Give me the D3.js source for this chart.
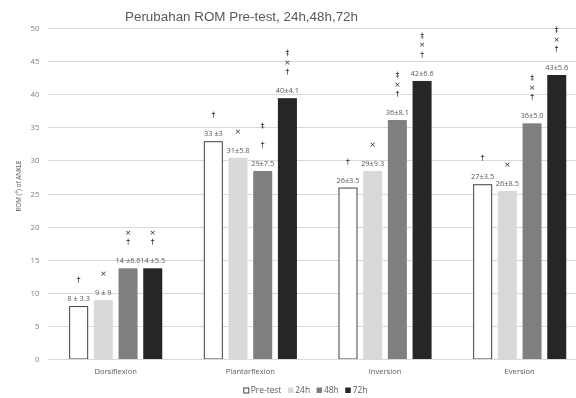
<!DOCTYPE html>
<html><head><meta charset="utf-8">
<script src="https://cdn.jsdelivr.net/npm/d3@7"></script>
<style>body{margin:0;background:#fff}svg{display:block;filter:grayscale(1)}</style>
</head><body><div id="chart"></div>
<script>
const categories = ["Dorsiflexion","Plantarflexion","Inversion","Eversion"];
const seriesNames = ["Pre-test","24h","48h","72h"];
const preTest = [8.0, 32.9, 25.9, 26.4];
const h24 = [8.9, 30.4, 28.4, 25.4];
const h48 = [13.7, 28.4, 36.1, 35.6];
const h72 = [13.7, 39.4, 42.0, 42.9];
const preTestLabels = ["8 ± 3.3","33 ±3","26±3.5","27±3.5"];
const h24Labels = ["9 ± 9","31±5.8","29±9.3","26±8.5"];
const h48Labels = ["14 ±6.6","29±7.5","36±8.1","36±5.0"];
const h72Labels = ["14 ±5.5","40±4.1","42±6.6","43±5.6"];
// significance marks, listed bottom to top ("" = empty slot)
const preTestMarks = [["†"],["†"],["†"],["†"]];
const h24Marks = [["×"],["×"],["×"],["×"]];
const h48Marks = [["†","×"],["†","","‡"],["†","×","‡"],["†","×","‡"]];
const h72Marks = [["†","×"],["†","×","‡"],["†","×","‡"],["†","×","‡"]];
const yTicks = [0,5,10,15,20,25,30,35,40,45,50];

const values = [preTest,h24,h48,h72];
const labelSets = [preTestLabels,h24Labels,h48Labels,h72Labels];
const markSets = [preTestMarks,h24Marks,h48Marks,h72Marks];
const fills = ["#ffffff","#d9d9d9","#7f7f7f","#262626"];

const W=576,H=398;
const svg=d3.select("#chart").append("svg").attr("width",W).attr("height",H);
const font="'Open Sans', sans-serif";

const y=d3.scaleLinear().domain([0,50]).range([359,28]);
const x0=d3.scaleBand().domain(categories).range([48.4,587]).paddingInner(0.2665).paddingOuter(0.133);
const x1=d3.scaleBand().domain(seriesNames).range([0,x0.bandwidth()]).paddingInner(0.23).paddingOuter(0.115);

// gridlines
svg.append("g").selectAll("line").data(yTicks).join("line")
  .attr("x1",48).attr("x2",W).attr("y1",d=>Math.round(y(d))+0.5).attr("y2",d=>Math.round(y(d))+0.5)
  .attr("stroke","#d9d9d9").attr("stroke-width",1);
// y tick labels
svg.append("g").selectAll("text").data(yTicks).join("text")
  .attr("x",39.5).attr("y",d=>y(d)+3).attr("text-anchor","end")
  .attr("font-family",font).attr("font-size","7.8px").attr("fill","#7f7f7f").text(d=>d);

// y title
svg.append("text").attr("transform","translate(21,186) rotate(-90)")
  .attr("text-anchor","middle").attr("font-family",font).attr("font-size","6.3px").attr("fill","#595959")
  .text("ROM (°) of ANKLE");

// title
svg.append("text").attr("x",125).attr("y",20.5).attr("font-family","'Liberation Sans', Arial, sans-serif")
  .attr("font-size","13.4px").attr("fill","#595959").text("Perubahan ROM Pre-test, 24h,48h,72h");

// bars
const rows=[];
categories.forEach((c,ci)=>seriesNames.forEach((s,si)=>rows.push({c,s,si,v:values[si][ci],label:labelSets[si][ci],marks:markSets[si][ci]})));
const g=svg.append("g");
g.selectAll("rect").data(rows).join("rect")
  .attr("x",d=>x0(d.c)+x1(d.s)+(d.si===0?0.5:0))
  .attr("y",d=>y(d.v)+(d.si===0?0.5:0))
  .attr("width",d=>x1.bandwidth()-(d.si===0?1:0))
  .attr("height",d=>y(0)-y(d.v)-(d.si===0?0.5:0))
  .attr("fill",d=>fills[d.si])
  .attr("stroke",d=>d.si===0?"#404040":"none").attr("stroke-width",1);

// value labels
g.selectAll("text.lbl").data(rows).join("text").attr("class","lbl")
  .attr("x",d=>x0(d.c)+x1(d.s)+x1.bandwidth()/2).attr("y",d=>y(d.v)-5)
  .attr("text-anchor","middle").attr("font-family",font).attr("font-size","7.4px").attr("fill","#595959")
  .text(d=>d.label);

// significance marks
const markRows=[];
rows.forEach(r=>r.marks.forEach((m,k)=>{ if(m) markRows.push({r,m,k}); }));
g.selectAll("text.mk").data(markRows).join("text").attr("class","mk")
  .attr("x",d=>x0(d.r.c)+x1(d.r.s)+x1.bandwidth()/2)
  .attr("y",d=>y(d.r.v)-24-d.k*9.5)
  .attr("text-anchor","middle").attr("font-family","'DejaVu Sans', sans-serif").attr("font-size","7.5px").attr("fill","#262626")
  .text(d=>d.m);

// x axis line
svg.append("line").attr("x1",48).attr("x2",W).attr("y1",359.5).attr("y2",359.5).attr("stroke","#d9d9d9");
// category labels
svg.append("g").selectAll("text").data(categories).join("text")
  .attr("x",d=>x0(d)+x0.bandwidth()/2).attr("y",374).attr("text-anchor","middle")
  .attr("font-family",font).attr("font-size","7.6px").attr("fill","#595959").text(d=>d);

// legend
const leg=svg.append("g");
let lx=243.3;
seriesNames.forEach((s,i)=>{
  leg.append("rect").attr("x",lx+(i===0?0.5:0)).attr("y",387.5+(i===0?0.5:0)).attr("width",i===0?5:5.5).attr("height",i===0?5:5.5)
    .attr("fill",fills[i]).attr("stroke",i===0?"#404040":"none");
  const t=leg.append("text").attr("x",lx+7.5).attr("y",393.3).attr("font-family",font).attr("font-size","8.4px").attr("fill","#595959").text(s);
  lx+=7.5+t.node().getComputedTextLength()+6.5;
});
</script></body></html>
